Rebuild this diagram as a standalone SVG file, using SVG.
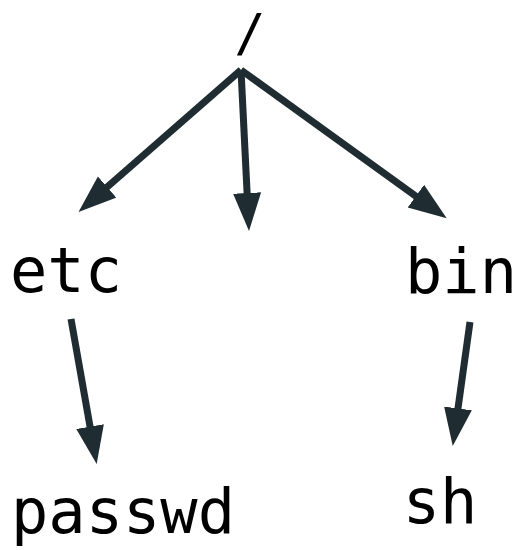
<svg xmlns="http://www.w3.org/2000/svg" width="522" height="550" viewBox="0 0 522 550">
  <style>
    .label { font-family: "DejaVu Sans Mono", "Liberation Mono", monospace; font-size: 62px; fill: #000; text-anchor: middle; }
    .edge { stroke: #1f2d33; stroke-width: 7; fill: none; marker-end: url(#head); }
  </style>
  <defs>
    <marker id="head" markerUnits="userSpaceOnUse" markerWidth="40" markerHeight="30" refX="2" refY="14" orient="auto">
      <path d="M0,0 L38,14 L0,28 z" fill="#1f2d33"/>
    </marker>
  </defs>
  <rect width="522" height="550" fill="#fff"/>
  <g id="edges">
    <line class="edge" x1="241" y1="70" x2="105.6" y2="188.3"/>
    <line class="edge" x1="241" y1="70" x2="247.2" y2="195.0"/>
    <line class="edge" x1="241" y1="70" x2="417.5" y2="197.3"/>
    <line class="edge" x1="71" y1="319" x2="90.4" y2="428.6"/>
    <line class="edge" x1="470" y1="322" x2="457.7" y2="410.4"/>
  </g>
  <g id="root"><text class="label" x="250" y="51" style="font-size:52px">/</text></g>
  <g id="etc"><text class="label" x="66" y="292">etc</text></g>
  <g id="bin"><text class="label" x="461" y="293">bin</text></g>
  <g id="passwd"><text class="label" x="123" y="533">passwd</text></g>
  <g id="sh"><text class="label" x="440" y="523">sh</text></g>
</svg>
